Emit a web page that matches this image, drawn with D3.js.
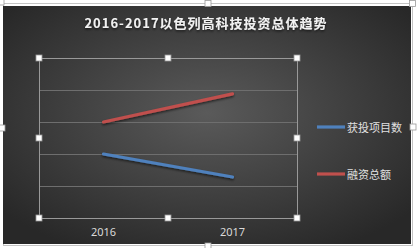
<!DOCTYPE html>
<html>
<head>
<meta charset="utf-8">
<script src="https://cdn.jsdelivr.net/npm/d3@7"></script>
<style>
  body { margin: 0; background: #fff; }
  svg { display: block; }
  text { font-family: "Noto Sans CJK SC", "Noto Sans", sans-serif; }
</style>
</head>
<body>
<div id="chart"></div>
<script>
// data
var years = ["2016", "2017"];
var projectCount = [100, 64];   // 获投项目数
var fundingTotal = [150, 194];  // 融资总额
var seriesNames = ["获投项目数", "融资总额"];
var seriesColors = ["#4f81bd", "#c0504d"];
var titleText = "2016-2017以色列高科技投资总体趋势";

var W = 418, H = 248;
var plot = {left: 39, top: 58, right: 297, bottom: 218};

var svg = d3.select("#chart").append("svg")
  .attr("width", W)
  .attr("height", H);

var defs = svg.append("defs");
var grad = defs.append("radialGradient")
  .attr("id", "bg")
  .attr("cx", "50%").attr("cy", "45%").attr("r", "65%");
grad.append("stop").attr("offset", "0%").attr("stop-color", "#5a5a5a");
grad.append("stop").attr("offset", "100%").attr("stop-color", "#282828");

var shadow = defs.append("filter").attr("id", "shadow")
  .attr("x", "-20%").attr("y", "-50%").attr("width", "140%").attr("height", "200%");
shadow.append("feDropShadow")
  .attr("dx", 0).attr("dy", 1.5).attr("stdDeviation", 1.2)
  .attr("flood-color", "#000").attr("flood-opacity", 0.6);

// outer selection frame + chart background
svg.append("rect")
  .attr("x", 3.5).attr("y", 3.5).attr("width", 409).attr("height", 242)
  .attr("fill", "none").attr("stroke", "#c4c4c4");
svg.append("rect")
  .attr("x", 3).attr("y", 6).attr("width", 408).attr("height", 238)
  .attr("fill", "url(#bg)");

// title
svg.append("text")
  .attr("x", 206).attr("y", 28)
  .attr("text-anchor", "middle")
  .attr("fill", "#f2f2f2")
  .attr("font-size", 13)
  .attr("font-weight", "bold")
  .attr("letter-spacing", 1)
  .attr("filter", "url(#shadow)")
  .text(titleText);

// scales
var x = d3.scaleBand().domain(years).range([plot.left, plot.right]);
var y = d3.scaleLinear().domain([0, 250]).range([plot.bottom, plot.top]);

// gridlines
var g = svg.append("g");
g.selectAll(".grid")
  .data(y.ticks(5))
  .enter().append("line")
  .attr("x1", plot.left).attr("x2", plot.right)
  .attr("y1", function(d){ return Math.round(y(d)) + 0.5; })
  .attr("y2", function(d){ return Math.round(y(d)) + 0.5; })
  .attr("stroke", "#6e6e6e");

// plot area frame
g.append("rect")
  .attr("x", plot.left + 0.5).attr("y", plot.top + 0.5)
  .attr("width", plot.right - plot.left).attr("height", plot.bottom - plot.top)
  .attr("fill", "none").attr("stroke", "#999");

// x axis labels
var xAxis = d3.axisBottom(x).tickSize(0).tickPadding(10);
var ax = svg.append("g")
  .attr("transform", "translate(0," + plot.bottom + ")")
  .call(xAxis);
ax.select(".domain").remove();
ax.selectAll("text")
  .attr("fill", "#d9d9d9")
  .attr("font-size", 11)
  .style("font-family", "\"Noto Sans\", sans-serif");

// lines
var line = d3.line()
  .x(function(d, i){ return x(years[i]) + x.bandwidth() / 2; })
  .y(function(d){ return y(d); });

[projectCount, fundingTotal].forEach(function(s, i){
  svg.append("path")
    .datum(s)
    .attr("d", line)
    .attr("fill", "none")
    .attr("stroke", seriesColors[i])
    .attr("stroke-width", 3.2)
    .attr("stroke-linecap", "round")
    .attr("filter", "url(#shadow)");
});

// legend
var legend = svg.selectAll(".legend")
  .data(seriesNames)
  .enter().append("g")
  .attr("transform", function(d, i){ return "translate(317," + (127 + i * 47) + ")"; });
legend.append("line")
  .attr("x1", 0).attr("x2", 28)
  .attr("stroke", function(d, i){ return seriesColors[i]; })
  .attr("stroke-width", 3.2);
legend.append("text")
  .attr("x", 30).attr("y", 4.5)
  .attr("fill", "#e0e0e0")
  .attr("font-size", 11)
  .text(function(d){ return d; });

// selection handles
function handles(pts){
  svg.append("g").selectAll("rect")
    .data(pts)
    .enter().append("rect")
    .attr("x", function(d){ return d[0] - 3; })
    .attr("y", function(d){ return d[1] - 3; })
    .attr("width", 6).attr("height", 6)
    .attr("fill", "#fff")
    .attr("stroke", "#9a9a9a")
    .attr("stroke-width", 0.8);
}
var mx = (plot.left + plot.right) / 2, my = (plot.top + plot.bottom) / 2;
handles([
  [plot.left, plot.top], [mx, plot.top], [plot.right, plot.top],
  [plot.left, my], [plot.right, my],
  [plot.left, plot.bottom], [mx, plot.bottom], [plot.right, plot.bottom]
]);
handles([[1, 2], [208, 3.5], [412.5, 3.5], [2, 128], [413, 127], [208, 246]]);
</script>
</body>
</html>
